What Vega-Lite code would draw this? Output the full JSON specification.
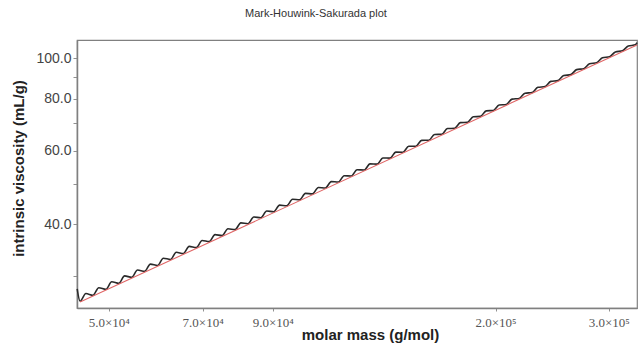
{
  "$schema": "https://vega.github.io/schema/vega-lite/v6.json",
  "autosize": {"type": "none"},
  "width": 560,
  "height": 268,
  "padding": {"left": 77, "top": 40, "right": 2, "bottom": 35},
  "background": "white",
  "config": {
    "view": {"stroke": "#808080", "strokeWidth": 1.2},
    "font": "Liberation Sans"
  },
  "title": {
    "text": "Mark-Houwink-Sakurada plot",
    "anchor": "start",
    "dx": 234,
    "offset": 20,
    "fontSize": 11,
    "fontWeight": "normal",
    "color": "#333333",
    "font": "Liberation Sans"
  },
  "datasets": {
    "measured": [
      {"m": 44650, "v": 28.0},
      {"m": 45114, "v": 26.16}, {"m": 46064, "v": 27.29},
      {"m": 47251, "v": 27.04}, {"m": 48246, "v": 28.19},
      {"m": 49489, "v": 27.94}, {"m": 50531, "v": 29.13},
      {"m": 51833, "v": 28.87}, {"m": 52924, "v": 30.09},
      {"m": 54288, "v": 29.84}, {"m": 55431, "v": 31.08},
      {"m": 56860, "v": 30.84}, {"m": 58057, "v": 32.11},
      {"m": 59553, "v": 31.87}, {"m": 60807, "v": 33.17},
      {"m": 62374, "v": 32.94}, {"m": 63687, "v": 34.27},
      {"m": 65329, "v": 34.04}, {"m": 66704, "v": 35.40},
      {"m": 68424, "v": 35.18}, {"m": 69864, "v": 36.57},
      {"m": 71665, "v": 36.35}, {"m": 73174, "v": 37.78},
      {"m": 75060, "v": 37.57}, {"m": 76640, "v": 39.03},
      {"m": 78616, "v": 38.83}, {"m": 80271, "v": 40.32},
      {"m": 82340, "v": 40.13}, {"m": 84073, "v": 41.65},
      {"m": 86240, "v": 41.47}, {"m": 88055, "v": 43.03},
      {"m": 90325, "v": 42.86}, {"m": 92226, "v": 44.45},
      {"m": 94604, "v": 44.29}, {"m": 96595, "v": 45.92},
      {"m": 99085, "v": 45.77}, {"m": 101171, "v": 47.44},
      {"m": 103779, "v": 47.30}, {"m": 105964, "v": 49.01},
      {"m": 108695, "v": 48.88}, {"m": 110983, "v": 50.63},
      {"m": 113844, "v": 50.52}, {"m": 116240, "v": 52.30},
      {"m": 119237, "v": 52.21}, {"m": 121747, "v": 54.03},
      {"m": 124885, "v": 53.96}, {"m": 127514, "v": 55.82},
      {"m": 130801, "v": 55.76}, {"m": 133554, "v": 57.66},
      {"m": 136997, "v": 57.63}, {"m": 139881, "v": 59.57},
      {"m": 143487, "v": 59.55}, {"m": 146507, "v": 61.54},
      {"m": 150284, "v": 61.55}, {"m": 153448, "v": 63.57},
      {"m": 157403, "v": 63.61}, {"m": 160716, "v": 65.67},
      {"m": 164859, "v": 65.73}, {"m": 168329, "v": 67.84},
      {"m": 172668, "v": 67.93}, {"m": 176303, "v": 70.09},
      {"m": 180847, "v": 70.21}, {"m": 184654, "v": 72.40},
      {"m": 189414, "v": 72.55}, {"m": 193401, "v": 74.80},
      {"m": 198387, "v": 74.98}, {"m": 202563, "v": 77.27},
      {"m": 207785, "v": 77.49}, {"m": 212159, "v": 79.82},
      {"m": 217628, "v": 80.08}, {"m": 222209, "v": 82.46},
      {"m": 227937, "v": 82.76}, {"m": 232735, "v": 85.19},
      {"m": 238734, "v": 85.53}, {"m": 243759, "v": 88.01},
      {"m": 250043, "v": 88.39}, {"m": 255306, "v": 90.91},
      {"m": 261888, "v": 91.35}, {"m": 267401, "v": 93.92},
      {"m": 274294, "v": 94.40}, {"m": 280068, "v": 97.03},
      {"m": 287287, "v": 97.56}, {"m": 293334, "v": 100.23},
      {"m": 300896, "v": 100.83}, {"m": 307230, "v": 103.55},
      {"m": 315149, "v": 104.20}, {"m": 321783, "v": 106.97},
      {"m": 330078, "v": 107.68}, {"m": 332000, "v": 109.0}
    ],
    "fit": [
      {"m": 45114, "v": 26.04},
      {"m": 332000, "v": 107.64}
    ]
  },
  "encoding": {
    "x": {
      "field": "m",
      "type": "quantitative",
      "scale": {"type": "log", "domain": [44620, 332000], "nice": false, "zero": false},
      "axis": {
        "title": "molar mass (g/mol)",
        "values": [50000, 70000, 90000, 200000, 300000],
        "labelExpr": "format(datum.value / pow(10, floor(log(datum.value) / LN10 + 1e-9)), '.1f') + '×10' + (floor(log(datum.value) / LN10 + 1e-9) == 4 ? '⁴' : '⁵')",
        "labelFont": "Liberation Serif",
        "labelFontSize": 13,
        "labelColor": "#555555",
        "labelPadding": 5,
        "labelFlush": false,
        "grid": false,
        "domainColor": "#808080",
        "domainWidth": 1.5,
        "tickColor": "#909090",
        "tickSize": 3,
        "titleFont": "Liberation Sans",
        "titleFontSize": 15,
        "titleFontWeight": "bold",
        "titleColor": "#222222",
        "titleX": 293,
        "titleY": 26,
        "titleBaseline": "middle",
        "titleAlign": "center"
      }
    },
    "y": {
      "field": "v",
      "type": "quantitative",
      "scale": {"type": "log", "domain": [25.2, 110.6], "nice": false, "zero": false},
      "axis": {
        "title": "intrinsic viscosity (mL/g)",
        "values": [30, 40, 50, 60, 70, 80, 90, 100],
        "labelExpr": "datum.value % 20 == 0 ? format(datum.value, '.1f') : ''",
        "labelFont": "Liberation Sans",
        "labelFontSize": 14,
        "labelColor": "#444444",
        "labelPadding": 2,
        "grid": false,
        "domainColor": "#808080",
        "domainWidth": 1.5,
        "tickColor": "#909090",
        "tickSize": 4,
        "titleFont": "Liberation Sans",
        "titleFontSize": 15,
        "titleFontWeight": "bold",
        "titleColor": "#222222",
        "titleX": -59,
        "titleY": 128,
        "titleAngle": 270,
        "titleBaseline": "middle",
        "titleAlign": "center"
      }
    }
  },
  "layer": [
    {
      "data": {"name": "measured"},
      "mark": {"type": "line", "color": "#2a2a2a", "strokeWidth": 1.6, "interpolate": "monotone"}
    },
    {
      "data": {"name": "fit"},
      "mark": {"type": "line", "color": "#e06666", "strokeWidth": 1.1}
    }
  ]
}
